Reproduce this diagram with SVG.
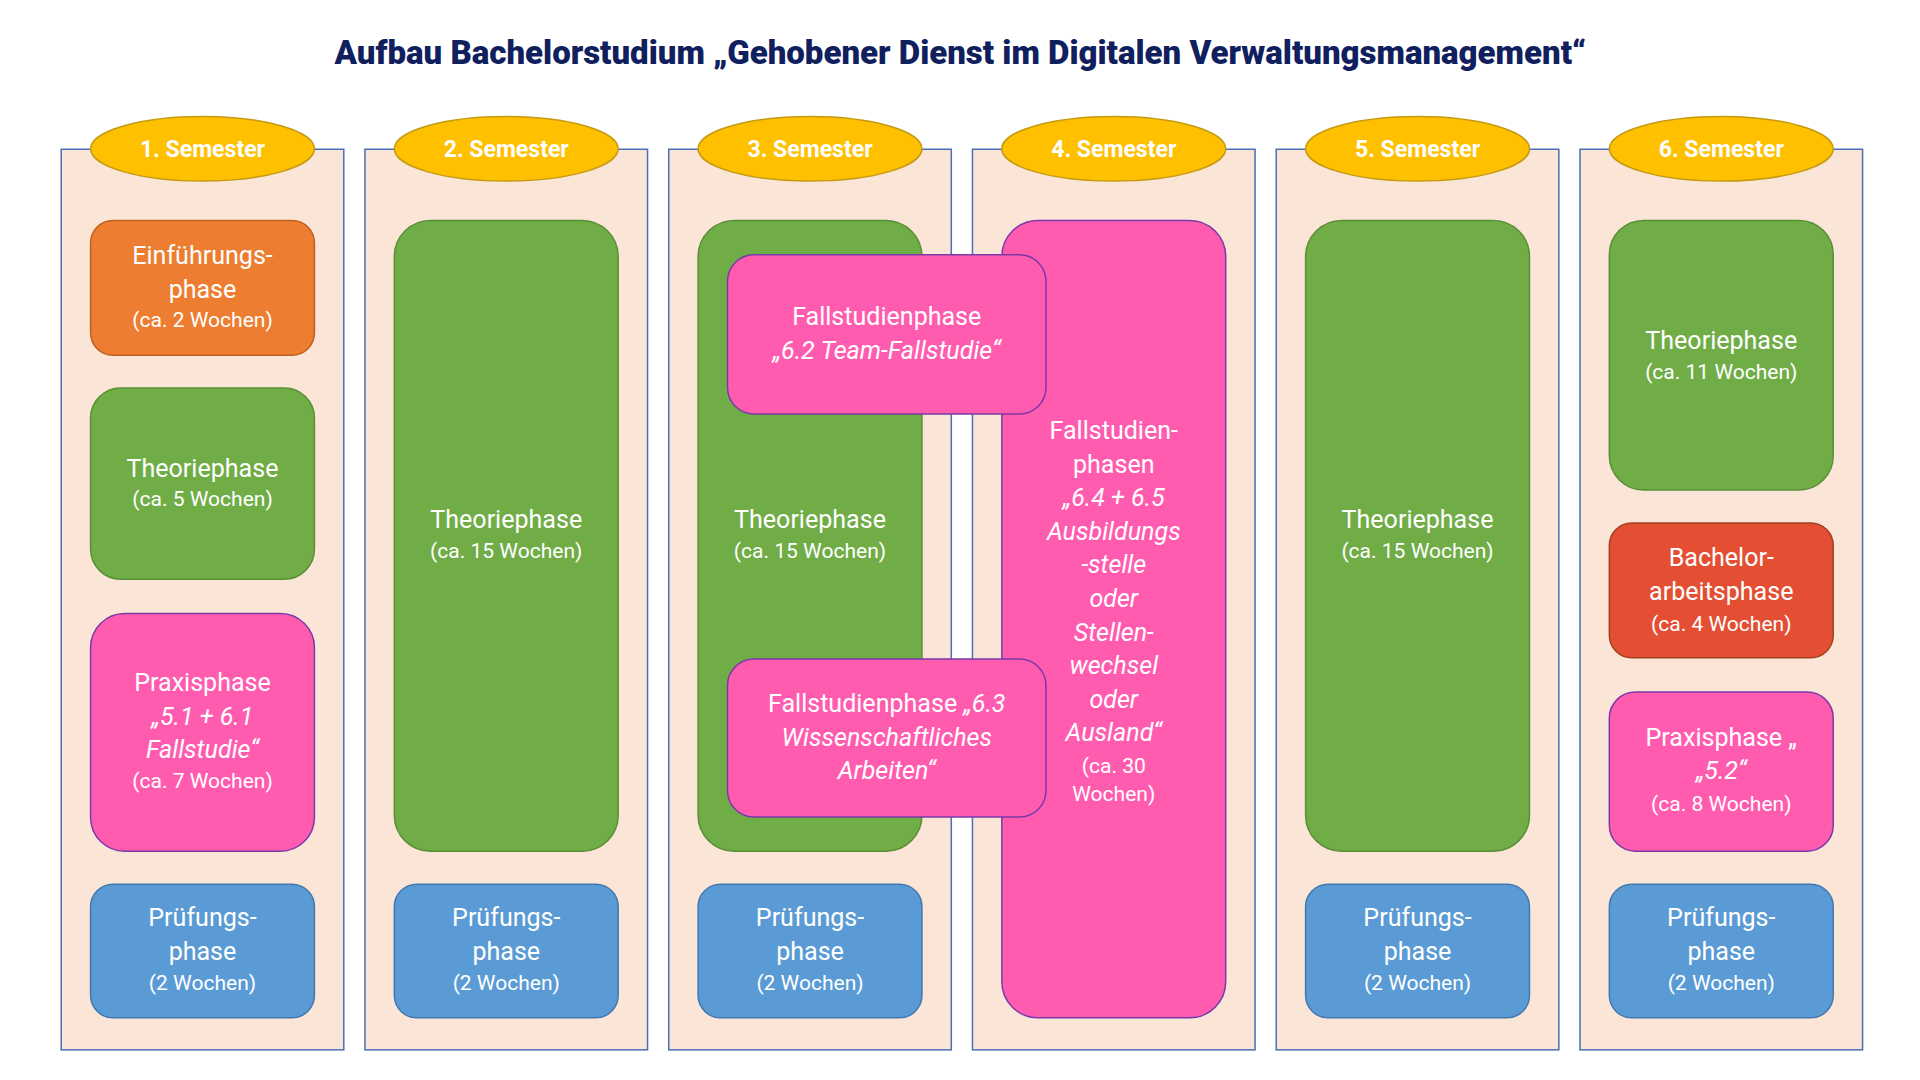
<svg xmlns="http://www.w3.org/2000/svg" width="1920" height="1080" viewBox="0 0 1920 1080">
<style>
.col{fill:#fbe5d6;stroke:#4a6fb5;stroke-width:1.5}
.sem{fill:#ffc000;stroke:#c49a12;stroke-width:1.5}
.semt{font-family:Roboto,"Liberation Sans",sans-serif;font-weight:700;font-size:23px;fill:#ffffff;text-anchor:middle}
.t{font-family:Roboto,"Liberation Sans",sans-serif;font-size:25px;fill:#ffffff;text-anchor:middle;transform:translateY(1.5px)}
.s{font-family:Roboto,"Liberation Sans",sans-serif;font-size:21px;fill:#ffffff;text-anchor:middle;transform:translateY(1.5px)}
.i{font-style:italic}
.or{fill:#ed7d31;stroke:#c0601e;stroke-width:1.5}
.gr{fill:#70ad47;stroke:#5a8f38;stroke-width:1.5}
.pk{fill:#ff5cb0;stroke:#7a3aa8;stroke-width:1.5}
.bl{fill:#5b9bd5;stroke:#4278b0;stroke-width:1.5}
.rd{fill:#e44f33;stroke:#a0421f;stroke-width:1.5}
.title{font-family:Roboto,"Liberation Sans",sans-serif;font-weight:900;font-size:34px;fill:#10205e;text-anchor:middle}
</style>
<rect width="1920" height="1080" fill="#ffffff"/>
<g id="diagram" transform="scale(1.0021)">
<text class="title" x="958.3" y="63.5" textLength="1249" lengthAdjust="spacingAndGlyphs">Aufbau Bachelorstudium „Gehobener Dienst im Digitalen Verwaltungsmanagement“</text>

<!-- Semester 1 -->
<g id="semester1">
<rect class="col" x="61.07" y="148.95" width="282" height="898.7"/>
<ellipse class="sem" cx="202.08" cy="148.46" rx="111.7" ry="32.27"/>
<text class="semt" x="202.08" y="156.9">1. Semester</text>
</g>
<g id="s1-einfuehrung">
<rect class="or" x="90.38" y="219.95" width="223.4" height="134.55" rx="22.4"/>
<text class="t" x="202.08" y="261.56">Einführungs-</text>
<text class="t" x="202.08" y="295.82">phase</text>
<text class="s" x="202.08" y="325.11">(ca. 2 Wochen)</text>
</g>
<g id="s1-theorie">
<rect class="gr" x="90.38" y="387.28" width="223.4" height="190.66" rx="30"/>
<text class="t" x="202.08" y="474.17">Theoriephase</text>
<text class="s" x="202.08" y="503.46">(ca. 5 Wochen)</text>
</g>
<g id="s1-praxis">
<rect class="pk" x="90.38" y="612.3" width="223.4" height="237.13" rx="34"/>
<text class="t" x="202.08" y="688.16">Praxisphase</text>
<text class="t i" x="202.08" y="722.32">„5.1 + 6.1</text>
<text class="t i" x="202.08" y="755.29">Fallstudie“</text>
<text class="s" x="202.08" y="784.68">(ca. 7 Wochen)</text>
</g>
<g id="s1-pruefung">
<rect class="bl" x="90.38" y="882.4" width="223.4" height="133.26" rx="22.4"/>
<text class="t" x="202.08" y="922.81">Prüfungs-</text>
<text class="t" x="202.08" y="956.97">phase</text>
<text class="s" x="202.08" y="986.37">(2 Wochen)</text>
</g>

<!-- Semester 2 -->
<g id="semester2">
<rect class="col" x="364.19" y="148.95" width="282" height="898.7"/>
<ellipse class="sem" cx="505.2" cy="148.46" rx="111.7" ry="32.27"/>
<text class="semt" x="505.2" y="156.9">2. Semester</text>
</g>
<g id="s2-theorie">
<rect class="gr" x="393.5" y="219.95" width="223.4" height="629.48" rx="36"/>
<text class="t" x="505.2" y="525.51">Theoriephase</text>
<text class="s" x="505.2" y="554.9">(ca. 15 Wochen)</text>
</g>
<g id="s2-pruefung">
<rect class="bl" x="393.5" y="882.4" width="223.4" height="133.26" rx="22.4"/>
<text class="t" x="505.2" y="922.81">Prüfungs-</text>
<text class="t" x="505.2" y="956.97">phase</text>
<text class="s" x="505.2" y="986.37">(2 Wochen)</text>
</g>

<!-- Semester 3 -->
<g id="semester3">
<rect class="col" x="667.31" y="148.95" width="282" height="898.7"/>
<ellipse class="sem" cx="808.32" cy="148.46" rx="111.7" ry="32.27"/>
<text class="semt" x="808.32" y="156.9">3. Semester</text>
</g>
<g id="s3-theorie">
<rect class="gr" x="696.62" y="219.95" width="223.4" height="629.48" rx="36"/>
<text class="t" x="808.32" y="525.51">Theoriephase</text>
<text class="s" x="808.32" y="554.9">(ca. 15 Wochen)</text>
</g>
<g id="s3-pruefung">
<rect class="bl" x="696.62" y="882.4" width="223.4" height="133.26" rx="22.4"/>
<text class="t" x="808.32" y="922.81">Prüfungs-</text>
<text class="t" x="808.32" y="956.97">phase</text>
<text class="s" x="808.32" y="986.37">(2 Wochen)</text>
</g>

<!-- Semester 4 -->
<g id="semester4">
<rect class="col" x="970.43" y="148.95" width="282" height="898.7"/>
<ellipse class="sem" cx="1111.44" cy="148.46" rx="111.7" ry="32.27"/>
<text class="semt" x="1111.44" y="156.9">4. Semester</text>
</g>
<g id="s4-fallstudien">
<rect class="pk" x="999.74" y="219.95" width="223.4" height="795.71" rx="36"/>
<text class="t" x="1111.44" y="436.33">Fallstudien-</text>
<text class="t" x="1111.44" y="470.59">phasen</text>
<text class="t i" x="1111.44" y="503.56">„6.4 + 6.5</text>
<text class="t i" x="1111.44" y="537.82">Ausbildungs</text>
<text class="t i" x="1111.44" y="570.79">-stelle</text>
<text class="t i" x="1111.44" y="603.76">oder</text>
<text class="t i" x="1111.44" y="638.02">Stellen-</text>
<text class="t i" x="1111.44" y="670.98">wechsel</text>
<text class="t i" x="1111.44" y="705.24">oder</text>
<text class="t i" x="1111.44" y="738.21">Ausland“</text>
<text class="s" x="1111.44" y="769.99">(ca. 30</text>
<text class="s" x="1111.44" y="798.09">Wochen)</text>
</g>

<!-- Semester 5 -->
<g id="semester5">
<rect class="col" x="1273.55" y="148.95" width="282" height="898.7"/>
<ellipse class="sem" cx="1414.56" cy="148.46" rx="111.7" ry="32.27"/>
<text class="semt" x="1414.56" y="156.9">5. Semester</text>
</g>
<g id="s5-theorie">
<rect class="gr" x="1302.86" y="219.95" width="223.4" height="629.48" rx="36"/>
<text class="t" x="1414.56" y="525.51">Theoriephase</text>
<text class="s" x="1414.56" y="554.9">(ca. 15 Wochen)</text>
</g>
<g id="s5-pruefung">
<rect class="bl" x="1302.86" y="882.4" width="223.4" height="133.26" rx="22.4"/>
<text class="t" x="1414.56" y="922.81">Prüfungs-</text>
<text class="t" x="1414.56" y="956.97">phase</text>
<text class="s" x="1414.56" y="986.37">(2 Wochen)</text>
</g>

<!-- Semester 6 -->
<g id="semester6">
<rect class="col" x="1576.67" y="148.95" width="282" height="898.7"/>
<ellipse class="sem" cx="1717.68" cy="148.46" rx="111.7" ry="32.27"/>
<text class="semt" x="1717.68" y="156.9">6. Semester</text>
</g>
<g id="s6-theorie">
<rect class="gr" x="1605.98" y="219.95" width="223.4" height="268.91" rx="34"/>
<text class="t" x="1717.68" y="347.06">Theoriephase</text>
<text class="s" x="1717.68" y="376.45">(ca. 11 Wochen)</text>
</g>
<g id="s6-bachelorarbeit">
<rect class="rd" x="1605.98" y="521.83" width="223.4" height="134.55" rx="22.4"/>
<text class="t" x="1717.68" y="563.44">Bachelor-</text>
<text class="t" x="1717.68" y="597.7">arbeitsphase</text>
<text class="s" x="1717.68" y="628.18">(ca. 4 Wochen)</text>
</g>
<g id="s6-praxis">
<rect class="pk" x="1605.98" y="690.55" width="223.4" height="158.88" rx="26"/>
<text class="t" x="1717.68" y="743.08">Praxisphase „</text>
<text class="t i" x="1717.68" y="776.14">„5.2“</text>
<text class="s" x="1717.68" y="807.92">(ca. 8 Wochen)</text>
</g>
<g id="s6-pruefung">
<rect class="bl" x="1605.98" y="882.4" width="223.4" height="133.26" rx="22.4"/>
<text class="t" x="1717.68" y="922.81">Prüfungs-</text>
<text class="t" x="1717.68" y="956.97">phase</text>
<text class="s" x="1717.68" y="986.37">(2 Wochen)</text>
</g>

<!-- Semester 3 overlay boxes -->
<g id="s3-fallstudie-team">
<rect class="pk" x="726" y="254.21" width="317.77" height="158.88" rx="26.5"/>
<text class="t" x="884.88" y="322.63">Fallstudienphase</text>
<text class="t i" x="884.88" y="356.89">„6.2 Team-Fallstudie“</text>
</g>
<g id="s3-fallstudie-wiss">
<rect class="pk" x="726" y="657.58" width="317.77" height="157.69" rx="26.3"/>
<text class="t" x="884.88" y="708.92">Fallstudienphase <tspan class="i">„6.3</tspan></text>
<text class="t i" x="884.88" y="743.08">Wissenschaftliches</text>
<text class="t i" x="884.88" y="776.14">Arbeiten“</text>
</g>
</g>
</svg>
